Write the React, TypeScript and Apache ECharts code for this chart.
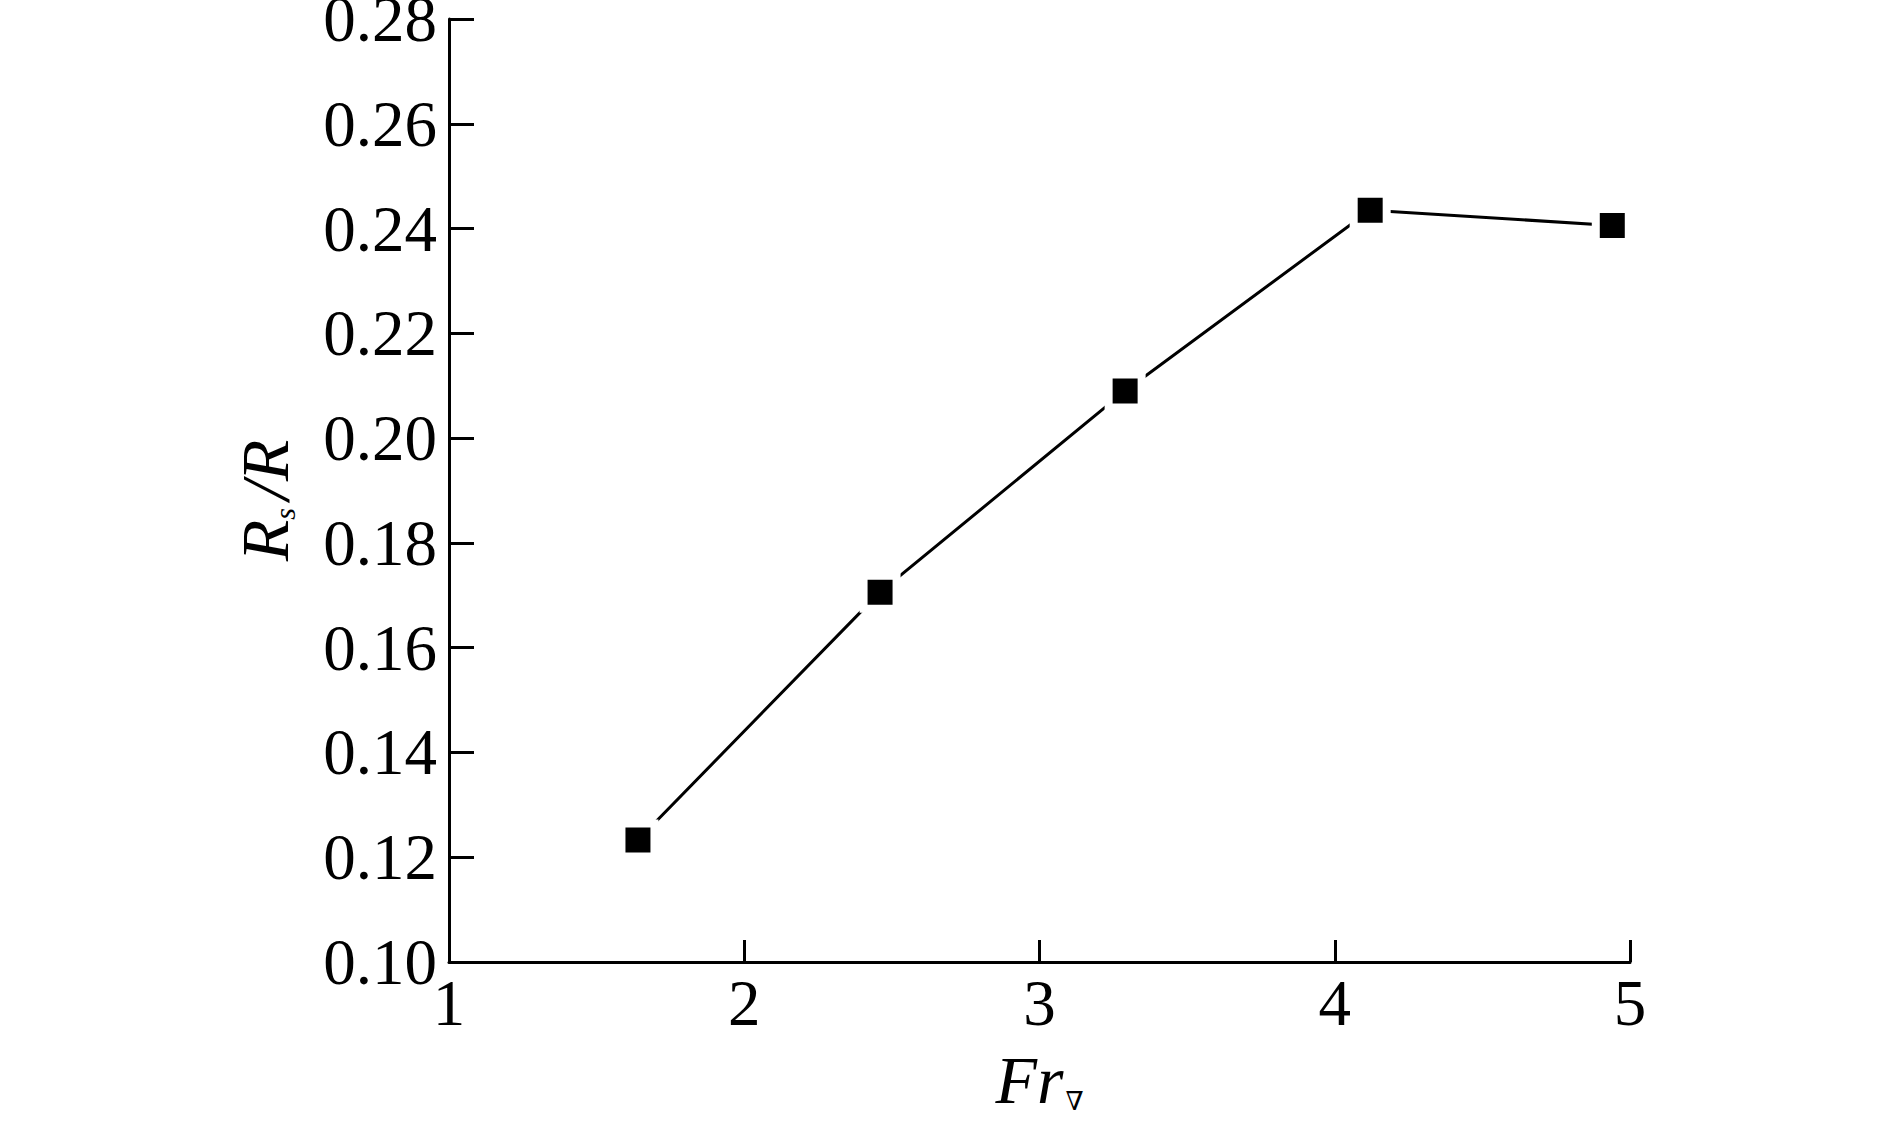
import React, { useEffect, useRef } from "react";
import * as echarts from "echarts";

const frValues = [1.64, 2.46, 3.29, 4.12, 4.94];
const rsRatio = [0.1233, 0.1706, 0.209, 0.2435, 0.2406];
const xTicks = [1, 2, 3, 4, 5];
const yTicks = [0.1, 0.12, 0.14, 0.16, 0.18, 0.2, 0.22, 0.24, 0.26, 0.28];

const FONT = "'Liberation Serif', 'Times New Roman', 'DejaVu Serif', serif";

export default function App() {
  const ref = useRef<HTMLDivElement>(null);
  useEffect(() => {
    if (!ref.current) return;
    const chart = echarts.init(ref.current, undefined, { renderer: "svg" });
    chart.setOption({
      animation: false,
      backgroundColor: "#ffffff",
      grid: { left: 449, right: 259, top: 19, bottom: 164, containLabel: false, outerBoundsMode: "none" },
      xAxis: {
        type: "value",
        min: xTicks[0],
        max: xTicks[xTicks.length - 1],
        interval: 1,
        name: "{i|Fr}{s|∇}",
        nameLocation: "middle",
        nameGap: 84,
        nameTextStyle: {
          rich: {
            i: { fontFamily: FONT, fontStyle: "italic", fontSize: 68, color: "#000", verticalAlign: "bottom" },
            s: { fontFamily: "'DejaVu Serif', " + FONT, fontSize: 26, color: "#000", verticalAlign: "bottom", padding: [0, 0, 0, 2] },
          },
        },
        axisLine: { show: true, lineStyle: { color: "#000", width: 3 } },
        axisTick: { show: true, inside: true, length: 22, lineStyle: { color: "#000", width: 3 } },
        axisLabel: { color: "#000", fontFamily: FONT, fontSize: 65, margin: 8 },
        splitLine: { show: false },
      },
      yAxis: {
        type: "value",
        min: yTicks[0],
        max: yTicks[yTicks.length - 1],
        interval: 0.02,
        name: "{i|R}{s|s}{i|/R}",
        nameLocation: "middle",
        nameGap: 150,
        nameRotate: 90,
        nameTextStyle: {
          padding: [0, 20, 0, 0],
          rich: {
            i: { fontFamily: FONT, fontStyle: "italic", fontSize: 68, color: "#000", verticalAlign: "bottom" },
            s: { fontFamily: FONT, fontStyle: "italic", fontSize: 30, color: "#000", verticalAlign: "bottom", padding: [0, 8, 0, 0] },
          },
        },
        axisLine: { show: true, lineStyle: { color: "#000", width: 3 } },
        axisTick: { show: true, inside: true, length: 25, lineStyle: { color: "#000", width: 3 } },
        axisLabel: {
          color: "#000",
          fontFamily: FONT,
          fontSize: 65,
          margin: 12,
          formatter: (v: number) => v.toFixed(2),
        },
        splitLine: { show: false },
      },
      series: [
        {
          type: "line",
          data: frValues.map((x, i) => [x, rsRatio[i]]),
          symbol: "rect",
          symbolSize: 33,
          itemStyle: { color: "#000", borderColor: "#fff", borderWidth: 8 },
          lineStyle: { color: "#000", width: 3 },
          z: 3,
        },
      ],
    });
    return () => chart.dispose();
  }, []);
  return (
    <div
      ref={ref}
      style={{ position: "fixed", left: 0, top: 0, width: 1889, height: 1126, background: "#fff" }}
    />
  );
}
